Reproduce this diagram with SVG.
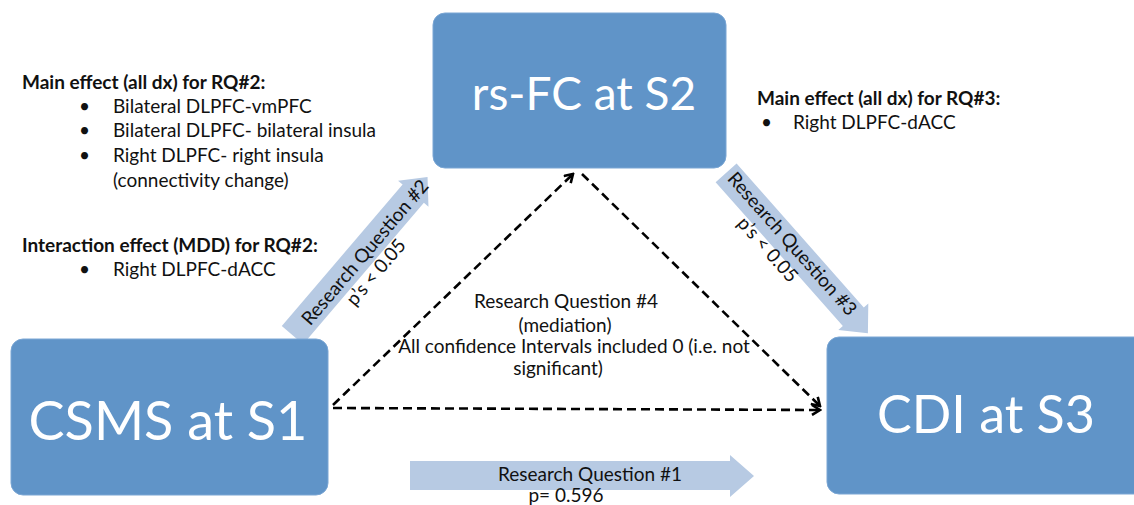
<svg xmlns="http://www.w3.org/2000/svg" width="1134" height="505" viewBox="0 0 1134 505">
<defs>
<style>
.box{fill:#6094c8;stroke:#7aa6d4;stroke-width:1}
.big{font-family:Lato,"Liberation Sans",sans-serif;fill:#ffffff;text-anchor:middle}
.t{font-family:Lato,"Liberation Sans",sans-serif;fill:#111111;font-size:19px}
.b{font-weight:bold}
.c{text-anchor:middle}
.blk{fill:#b7cae3}
.dash{stroke:#000;stroke-width:2.6;stroke-dasharray:9 5;fill:none}
</style>
<marker id="ah" viewBox="0 0 12 12" refX="10" refY="6" markerWidth="12" markerHeight="12" markerUnits="userSpaceOnUse" orient="auto">
<polyline points="2,1 10,6 2,11" fill="none" stroke="#000" stroke-width="2.6"/>
</marker>
</defs>
<rect width="1134" height="505" fill="#ffffff"/>

<g id="connectors">
<line class="dash" x1="333" y1="405" x2="573" y2="174" marker-end="url(#ah)"/>
<line class="dash" x1="582" y1="174" x2="820" y2="406" marker-end="url(#ah)"/>
<line class="dash" x1="333" y1="408" x2="820" y2="410" marker-end="url(#ah)"/>
<g id="rq1">
<polygon class="blk" points="410,461 730,461 730,455 754,476 730,497 730,490 410,490"/>
<text class="t c" x="590" y="481" font-size="19.5">Research Question #1</text>
<text class="t c" x="566" y="502" font-size="19.5">p= 0.596</text>
</g>
<g id="rq2" transform="translate(360,256) rotate(-49.5)">
<polygon class="blk" points="-104,-14 82,-14 82,-20 104,0 82,20 82,14 -104,14"/>
<text class="t c" x="6" y="8" font-size="20.5">Research Question #2</text>
<text class="t c" x="-2" y="29" font-size="20.5">p’s &lt; 0.05</text>
</g>
<g id="rq3" transform="translate(797,253) rotate(48.5)">
<polygon class="blk" points="-107,-14 85,-14 85,-20 107,0 85,20 85,14 -107,14"/>
<text class="t c" x="-10" y="4" font-size="20.5">Research Question #3</text>
<text class="t c" x="-22" y="26" font-size="20.5">p’s &lt; 0.05</text>
</g>
</g>

<g id="csms">
<rect class="box" x="11" y="339" width="317" height="156" rx="12"/>
<text class="big" x="168" y="440" font-size="54">CSMS at S1</text>
</g>
<g id="rsfc">
<rect class="box" x="433" y="13" width="293" height="155" rx="12"/>
<text class="big" x="584" y="110" font-size="46">rs-FC at S2</text>
</g>
<g id="cdi">
<rect class="box" x="827" y="337" width="320" height="157" rx="12"/>
<text class="big" x="986" y="433" font-size="52">CDI at S3</text>
</g>

<g id="notes-rq2">
<text class="t b" x="22" y="89">Main effect (all dx) for RQ#2:</text>
<text class="t" x="79" y="113">•</text>
<text class="t" x="113" y="113">Bilateral DLPFC-vmPFC</text>
<text class="t" x="79" y="137">•</text>
<text class="t" x="113" y="137">Bilateral DLPFC- bilateral insula</text>
<text class="t" x="79" y="162">•</text>
<text class="t" x="113" y="162">Right DLPFC- right insula</text>
<text class="t" x="113" y="187">(connectivity change)</text>
<text class="t b" x="22" y="252">Interaction effect (MDD) for RQ#2:</text>
<text class="t" x="79" y="276">•</text>
<text class="t" x="113" y="276">Right DLPFC-dACC</text>
</g>
<g id="notes-rq3">
<text class="t b" x="757" y="105">Main effect (all dx) for RQ#3:</text>
<text class="t" x="761" y="129">•</text>
<text class="t" x="793" y="129">Right DLPFC-dACC</text>
</g>
<g id="rq4">
<text class="t c" x="566" y="308" font-size="19.5">Research Question #4</text>
<text class="t c" x="565" y="332" font-size="19.5">(mediation)</text>
<text class="t c" x="574" y="353" font-size="12.5">All confidence Intervals included 0 (i.e. not</text>
<text class="t c" x="558" y="375" font-size="12.5">significant)</text>
</g>
</svg>
